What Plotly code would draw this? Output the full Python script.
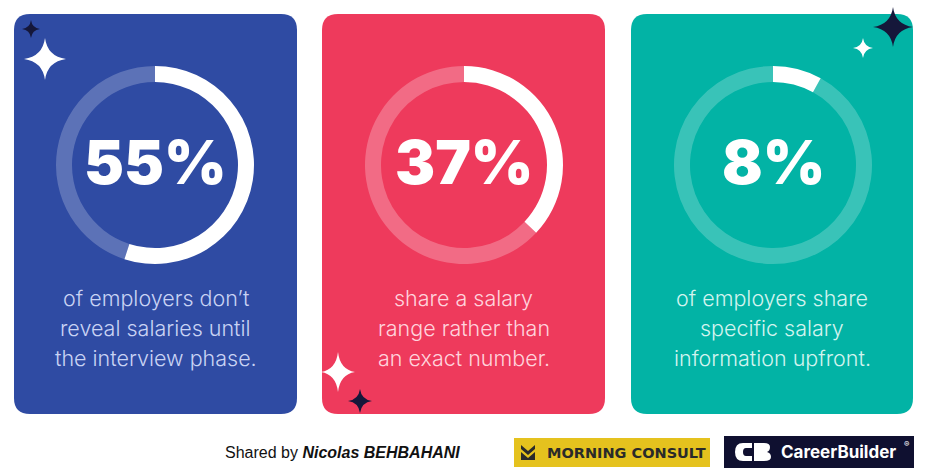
import plotly.graph_objects as go

W, H = 926, 472

# ---- data ----
percent_values = [55, 37, 8]
percent_labels = ["55%", "37%", "8%"]
caption_lines = [
    ["of employers don\u2019t", "reveal salaries until", "the interview phase."],
    ["share a salary", "range rather than", "an exact number."],
    ["of employers share", "specific salary", "information upfront."],
]
panel_colors = ["#2F4BA3", "#EE3A5C", "#02B3A5"]
ring_faint = ["rgba(255,255,255,0.22)", "rgba(255,255,255,0.25)", "rgba(255,255,255,0.22)"]
caption_colors = ["#C9D3F4", "#FFD3DC", "#D2F4EF"]
credit_text = "Shared by <b><i>Nicolas BEHBAHANI</i></b>"
logo_left_text = "MORNING CONSULT"
logo_right_text = "CareerBuilder"

# ---- layout geometry ----
panel_x = [(14, 297), (322, 605), (631, 913)]
panel_y = (14, 414)
ring_cx = [155, 464, 773]
ring_cy = 165
ring_R = 99
ring_th = 16


def rounded_rect(x0, y0, x1, y1, r):
    return (f"M{x0+r},{y0} L{x1-r},{y0} Q{x1},{y0} {x1},{y0+r} "
            f"L{x1},{y1-r} Q{x1},{y1} {x1-r},{y1} L{x0+r},{y1} "
            f"Q{x0},{y1} {x0},{y1-r} L{x0},{y0+r} Q{x0},{y0} {x0+r},{y0} Z")


def sparkle(cx, cy, rx, ry):
    k = 0.12
    return (f"M{cx},{cy-ry} Q{cx+rx*k},{cy-ry*k} {cx+rx},{cy} "
            f"Q{cx+rx*k},{cy+ry*k} {cx},{cy+ry} "
            f"Q{cx-rx*k},{cy+ry*k} {cx-rx},{cy} "
            f"Q{cx-rx*k},{cy-ry*k} {cx},{cy-ry} Z")


fig = go.Figure()
shapes = []
annotations = []

for i in range(3):
    x0, x1 = panel_x[i]
    shapes.append(dict(type="path", path=rounded_rect(x0, panel_y[0], x1, panel_y[1], 16),
                       fillcolor=panel_colors[i], line=dict(width=0), layer="below",
                       xref="x", yref="y"))
    cx = ring_cx[i]
    fig.add_trace(go.Pie(
        values=[percent_values[i], 100 - percent_values[i]],
        marker=dict(colors=["#FFFFFF", ring_faint[i]], line=dict(width=0)),
        hole=(ring_R - ring_th) / ring_R,
        sort=False, direction="clockwise", rotation=0,
        textinfo="none", hoverinfo="skip", showlegend=False,
        domain=dict(x=[(cx - ring_R) / W, (cx + ring_R) / W],
                    y=[1 - (ring_cy + ring_R) / H, 1 - (ring_cy - ring_R) / H]),
    ))
    annotations.append(dict(x=cx, y=ring_cy - 3, xref="x", yref="y",
                            text=percent_labels[i], showarrow=False,
                            font=dict(family="Inter", size=60, color="white", weight=900),
                            xanchor="center", yanchor="middle"))
    for j, line in enumerate(caption_lines[i]):
        annotations.append(dict(x=(x0 + x1) / 2, y=298 + 30 * j, xref="x", yref="y",
                                text=line, showarrow=False,
                                font=dict(family="Inter", size=21.5, color=caption_colors[i], weight=300),
                                xanchor="center", yanchor="middle"))

# sparkles
dark = "#15173A"
for (cx, cy, rx, ry, col) in [
    (31, 29, 9, 9, dark), (45, 59, 21, 21, "white"),
    (338, 372, 17, 20, "white"), (360, 401, 12, 12, dark),
    (863, 48, 10, 10, "white"), (893, 27, 20, 20, dark),
]:
    shapes.append(dict(type="path", path=sparkle(cx, cy, rx, ry), fillcolor=col,
                       line=dict(width=0), layer="above", xref="x", yref="y"))

# credit
annotations.append(dict(x=342, y=452, xref="x", yref="y", text=credit_text, showarrow=False,
                        font=dict(family="Liberation Sans", size=16, color="#111111"),
                        xanchor="center", yanchor="middle"))

# Morning Consult logo
shapes.append(dict(type="rect", x0=514, x1=710, y0=438, y1=467, fillcolor="#E5C21E",
                   line=dict(width=0), layer="above", xref="x", yref="y"))
shapes.append(dict(type="path",
                   path="M521,445 L528,451 L535,445 L535,449 L528,455 L521,449 Z M521,452 L528,458 L535,452 L535,460 L521,460 Z",
                   fillcolor="#2A2A2A", line=dict(width=0), layer="above", xref="x", yref="y"))
annotations.append(dict(x=626, y=453, xref="x", yref="y", text="<b>" + logo_left_text + "</b>",
                        showarrow=False, font=dict(family="DejaVu Sans", size=14.5, color="#2A2A2A"),
                        xanchor="center", yanchor="middle"))

# CareerBuilder logo
shapes.append(dict(type="rect", x0=724, x1=914, y0=436, y1=468, fillcolor="#0F1030",
                   line=dict(width=0), layer="above", xref="x", yref="y"))
shapes.append(dict(type="path",
                   path="M752,443 L743,443 Q735,443 735,452 Q735,461 743,461 L752,461 L752,456 L746,456 Q743,456 743,452 Q743,448 746,448 L752,448 Z",
                   fillcolor="white", line=dict(width=0), layer="above", xref="x", yref="y"))
shapes.append(dict(type="path",
                   path="M754,443 L764,443 Q770,443 770,447 Q770,451 767,452 Q771,453 771,457 Q771,461 764,461 L754,461 Z",
                   fillcolor="white", line=dict(width=0), layer="above", xref="x", yref="y"))
annotations.append(dict(x=779, y=452, xref="x", yref="y",
                        text="<b>" + logo_right_text + "</b>",
                        showarrow=False, font=dict(family="Inter", size=17, color="white"),
                        xanchor="left", yanchor="middle"))
annotations.append(dict(x=906, y=444, xref="x", yref="y", text="\u00ae",
                        showarrow=False, font=dict(family="Inter", size=8, color="white"),
                        xanchor="center", yanchor="middle"))

fig.update_layout(
    width=W, height=H, autosize=False,
    margin=dict(l=0, r=0, t=0, b=0),
    paper_bgcolor="white", plot_bgcolor="rgba(0,0,0,0)",
    xaxis=dict(range=[0, W], visible=False, fixedrange=True),
    yaxis=dict(range=[H, 0], visible=False, fixedrange=True),
    shapes=shapes, annotations=annotations, showlegend=False,
)

fig.write_html("out.html", config={"displayModeBar": False},
               post_script="document.body.style.margin='0';document.body.style.overflow='hidden';")
